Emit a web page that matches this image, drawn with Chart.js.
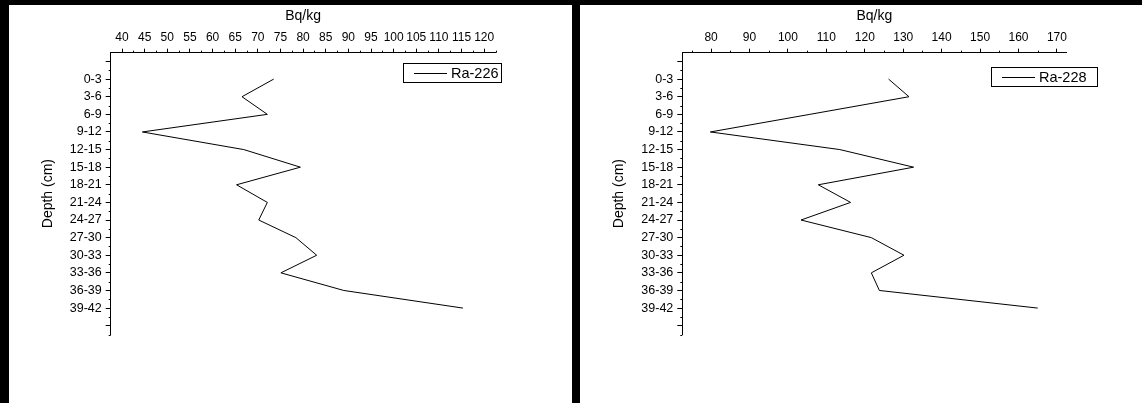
<!DOCTYPE html>
<html lang="en">
<head>
<meta charset="UTF-8">
<title>Ra-226 / Ra-228 depth profiles</title>
<script src="https://cdn.jsdelivr.net/npm/chart.js"></script>
<style>
  html, body { margin: 0; padding: 0; background: #fff; }
  body { width: 1142px; height: 403px; position: relative; overflow: hidden; }
  canvas { position: absolute; top: 0; }
  .bar { position: absolute; background: #000; }
</style>
</head>
<body>
<div class="bar" style="left:0;top:0;width:1142px;height:5px"></div>
<div class="bar" style="left:0;top:0;width:9px;height:403px"></div>
<div class="bar" style="left:572px;top:0;width:8px;height:403px"></div>
<canvas id="c226" width="571" height="403" style="left:0"></canvas>
<canvas id="c228" width="571" height="403" style="left:571px"></canvas>
<script>
// depth intervals (cm)
const depths = ['0-3', '3-6', '6-9', '9-12', '12-15', '15-18', '18-21', '21-24',
                '24-27', '27-30', '30-33', '33-36', '36-39', '39-42'];
// activity concentrations, Bq/kg
const ra226 = [73.5, 66.5, 72.1, 44.5, 66.9, 79.4, 65.3, 72.1, 70.2, 78.4, 83.0, 75.1, 89.0, 115.3];
const ra228 = [126.2, 131.5, 105.7, 79.8, 113.5, 132.7, 107.9, 116.3, 103.4, 121.7, 130.2, 121.7, 123.8, 165.0];
// tick values
const ticks226 = [40, 45, 50, 55, 60, 65, 70, 75, 80, 85, 90, 95, 100, 105, 110, 115, 120];
const ticks228 = [80, 90, 100, 110, 120, 130, 140, 150, 160, 170];
// y tick positions (index into depths, -1 and 14 are unlabeled)
const depthTicks = [-1, 0, 1, 2, 3, 4, 5, 6, 7, 8, 9, 10, 11, 12, 13, 14];

const FONT = 'Arial, "Liberation Sans", sans-serif';

// minor ticks halfway between the major ones
const minorTicks = {
  id: 'minorTicks',
  afterDraw(chart) {
    const ctx = chart.ctx;
    const xs = chart.scales.x, ys = chart.scales.y;
    const area = chart.chartArea;
    const xt = chart.options.xTicks;
    ctx.save();
    ctx.strokeStyle = '#000';
    ctx.lineWidth = 1;
    ctx.beginPath();
    const half = (xt[1] - xt[0]) / 2;
    for (let v = xt[0] - half; v <= xs.max + 1e-9; v += 2 * half) {
      if (v <= xs.min) continue;
      const px = Math.round(xs.getPixelForValue(v)) + 0.5;
      ctx.moveTo(px, area.top);
      ctx.lineTo(px, area.top - 2);
    }
    for (let v = -0.5; v <= 14.5; v += 1) {
      const py = Math.round(ys.getPixelForValue(v)) + 0.5;
      ctx.moveTo(area.left, py);
      ctx.lineTo(area.left - 2, py);
    }
    ctx.stroke();
    ctx.restore();
  }
};

// boxed legend inside the plot, top right
const boxLegend = {
  id: 'boxLegend',
  afterDraw(chart) {
    const o = chart.options.boxLegend;
    const ctx = chart.ctx;
    const ds = chart.data.datasets[0];
    ctx.save();
    ctx.font = '14.5px ' + FONT;
    const h = 19;
    const x = o.left, y = o.top;
    ctx.strokeStyle = '#000';
    ctx.lineWidth = 1;
    ctx.strokeRect(Math.round(x) + 0.5, Math.round(y) + 0.5, Math.round(o.width), h);
    ctx.beginPath();
    ctx.moveTo(x + 11, y + 10.5);
    ctx.lineTo(x + 44, y + 10.5);
    ctx.stroke();
    ctx.fillStyle = '#000';
    ctx.textBaseline = 'middle';
    ctx.fillText(ds.label, x + 48, y + 10.5);
    ctx.restore();
  }
};

function makeChart(id, label, values, xTicks, xMin, xMax, plotLeft, legend) {
  return new Chart(document.getElementById(id), {
    type: 'line',
    data: {
      datasets: [{
        label: label,
        data: depths.map((d, i) => ({ x: values[i], y: i })),
        borderColor: '#000',
        borderWidth: 1,
        pointRadius: 0,
        tension: 0,
        fill: false
      }]
    },
    options: {
      responsive: false,
      animation: false,
      devicePixelRatio: 1,
      xTicks: xTicks,
      boxLegend: legend,
      layout: { padding: { left: 0, top: 0, right: 571 - 495.5, bottom: 403 - 334.5 } },
      plugins: { legend: { display: false }, tooltip: { enabled: false } },
      scales: {
        x: {
          type: 'linear',
          position: 'top',
          min: xMin,
          max: xMax,
          afterFit: s => { s.height = 52.7; },
          afterBuildTicks: s => { s.ticks = xTicks.map(v => ({ value: v })); },
          ticks: { color: '#000', padding: 4, maxRotation: 0, autoSkip: false,
                   font: { family: FONT, size: 12 } },
          grid: { drawOnChartArea: false, drawTicks: true, tickLength: 4, color: '#000' },
          border: { color: '#000', width: 1 },
          title: { display: true, text: 'Bq/kg', color: '#000', padding: { top: 8, bottom: 0 },
                   font: { family: FONT, size: 14 } }
        },
        y: {
          type: 'linear',
          reverse: true,
          min: -1.5,
          max: 14.5,
          afterFit: s => { s.width = plotLeft; },
          afterBuildTicks: s => { s.ticks = depthTicks.map(v => ({ value: v })); },
          ticks: { color: '#000', padding: 4, autoSkip: false,
                   callback: v => depths[v] !== undefined ? depths[v] : '',
                   font: { family: FONT, size: 12.5 } },
          grid: { drawOnChartArea: false, drawTicks: true, tickLength: 5, color: '#000' },
          border: { color: '#000', width: 1 },
          title: { display: true, text: 'Depth (cm)', color: '#000', padding: { top: 40, bottom: 0 },
                   font: { family: FONT, size: 14 } }
        }
      }
    },
    plugins: [minorTicks, boxLegend]
  });
}

makeChart('c226', 'Ra-226', ra226, ticks226, 37.5, 122.5, 110.7, { left: 403, top: 63, width: 98 });
makeChart('c228', 'Ra-228', ra228, ticks228, 72.5, 172.5, 111.3, { left: 420, top: 67, width: 106 });
</script>
</body>
</html>
